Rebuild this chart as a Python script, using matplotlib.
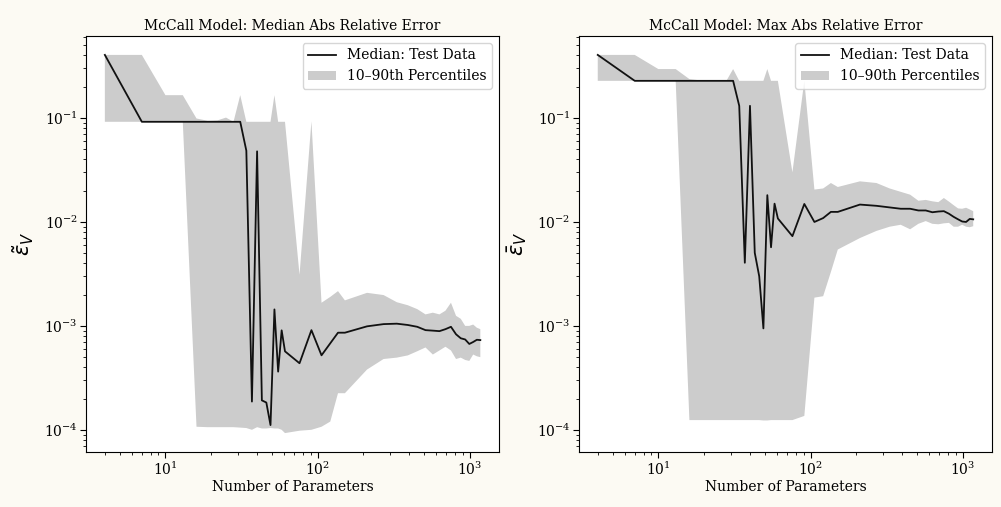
import matplotlib
matplotlib.use('Agg')
import matplotlib.pyplot as plt
import numpy as np

plt.rcParams['font.family'] = 'serif'
plt.rcParams['font.serif'] = ['DejaVu Serif']

# number of parameters
n_params = [4, 7, 10, 13, 16, 19, 22, 25, 28, 31, 34, 37, 40, 43, 46, 49, 52, 55, 58, 61,
            76, 91, 106, 121, 136, 151, 211, 271, 331, 391, 451, 511, 571, 631, 691, 751,
            811, 871, 931, 991, 1051, 1111, 1171]

# median abs relative error
med_median = [0.405, 0.092, 0.092, 0.092, 0.092, 0.092, 0.092, 0.092, 0.092, 0.092, 0.0485,
              1.87e-4, 0.0478, 1.92e-4, 1.83e-4, 1.11e-4, 1.44e-3, 3.63e-4, 9.06e-4, 5.69e-4,
              4.37e-4, 9.1e-4, 5.21e-4, 6.8e-4, 8.6e-4, 8.6e-4, 9.9e-4, 1.04e-3, 1.05e-3,
              1.02e-3, 9.8e-4, 9.1e-4, 9.0e-4, 8.9e-4, 9.3e-4, 9.8e-4, 8.3e-4, 7.6e-4, 7.4e-4,
              6.7e-4, 7.0e-4, 7.35e-4, 7.3e-4]
med_p10 = [0.092, 0.092, 0.092, 0.092, 1.07e-4, 1.06e-4, 1.06e-4, 1.06e-4, 1.06e-4, 1.05e-4,
           1.04e-4, 1.0e-4, 1.06e-4, 1.03e-4, 1.03e-4, 1.04e-4, 1.03e-4, 1.03e-4, 1.0e-4, 9.3e-5,
           9.8e-5, 1.0e-4, 1.07e-4, 1.2e-4, 2.25e-4, 2.25e-4, 3.8e-4, 4.8e-4, 4.95e-4, 5.2e-4,
           5.7e-4, 6.2e-4, 5.3e-4, 5.8e-4, 6.3e-4, 5.8e-4, 4.8e-4, 4.95e-4, 4.7e-4, 4.6e-4,
           5.3e-4, 5.1e-4, 5.0e-4]
med_p90 = [0.405, 0.405, 0.166, 0.166, 0.099, 0.094, 0.095, 0.101, 0.092, 0.166, 0.092, 0.092,
           0.092, 0.092, 0.092, 0.092, 0.166, 0.092, 0.092, 0.092, 3.1e-3, 0.093, 1.67e-3,
           1.9e-3, 2.16e-3, 1.76e-3, 2.08e-3, 1.98e-3, 1.69e-3, 1.58e-3, 1.45e-3, 1.29e-3,
           1.34e-3, 1.29e-3, 1.4e-3, 1.67e-3, 1.25e-3, 1.17e-3, 1.0e-3, 1.0e-3, 1.03e-3,
           9.6e-4, 9.3e-4]

# max abs relative error
max_median = [0.405, 0.228, 0.228, 0.228, 0.228, 0.228, 0.228, 0.228, 0.228, 0.228, 0.131,
              4.05e-3, 0.131, 5.05e-3, 3.0e-3, 9.46e-4, 0.0181, 5.71e-3, 0.0150, 0.0108,
              7.3e-3, 0.0149, 0.0100, 0.0109, 0.0125, 0.0125, 0.0147, 0.0143, 0.0138, 0.0134,
              0.0134, 0.0129, 0.0129, 0.0124, 0.0126, 0.0127, 0.0120, 0.0112, 0.0106, 0.0101,
              0.0100, 0.0107, 0.0106]
max_p10 = [0.228, 0.228, 0.228, 0.228, 1.24e-4, 1.24e-4, 1.24e-4, 1.24e-4, 1.24e-4, 1.24e-4,
           1.24e-4, 1.24e-4, 1.24e-4, 1.24e-4, 1.24e-4, 1.23e-4, 1.23e-4, 1.24e-4, 1.24e-4,
           1.24e-4, 1.24e-4, 1.36e-4, 1.87e-3, 1.93e-3, 3.3e-3, 5.43e-3, 7.0e-3, 8.2e-3, 9.0e-3,
           9.4e-3, 8.5e-3, 9.6e-3, 1.02e-2, 9.6e-3, 9.5e-3, 9.7e-3, 9.8e-3, 9.0e-3, 9.0e-3,
           9.4e-3, 9.0e-3, 8.9e-3, 9.1e-3]
max_p90 = [0.405, 0.405, 0.296, 0.296, 0.237, 0.23, 0.228, 0.232, 0.228, 0.296, 0.228, 0.228,
           0.228, 0.228, 0.228, 0.228, 0.296, 0.228, 0.228, 0.228, 0.030, 0.228, 0.0205, 0.021,
           0.0237, 0.0217, 0.0246, 0.0237, 0.021, 0.0195, 0.0183, 0.016, 0.0163, 0.0158,
           0.0155, 0.017, 0.0157, 0.0145, 0.0135, 0.0134, 0.0137, 0.0132, 0.0127]

fig = plt.figure(figsize=(10.01, 5.07), dpi=100, facecolor='#fcfaf3')
ax1 = fig.add_axes([0.086, 0.1085, 0.4126, 0.8205])
ax2 = fig.add_axes([0.5784, 0.1085, 0.4126, 0.8205])

panels = [
    (ax1, med_median, med_p10, med_p90, 'McCall Model: Median Abs Relative Error', r'$\tilde{\varepsilon}_V$'),
    (ax2, max_median, max_p10, max_p90, 'McCall Model: Max Abs Relative Error', r'$\bar{\varepsilon}_V$'),
]

for ax, med, lo, hi, title, ylab in panels:
    ax.plot(n_params, med, color='#111111', lw=1.3, label='Median: Test Data')
    ax.fill_between(n_params, lo, hi, facecolor='#cccccc', edgecolor='none',
                    label='10–90th Percentiles')
    ax.set_xscale('log')
    ax.set_yscale('log')
    ax.set_title(title, fontsize=10, pad=4)
    ax.set_xlabel('Number of Parameters', fontsize=10, labelpad=2)
    ax.set_ylabel(ylab, fontsize=15, family='DejaVu Sans', labelpad=6)
    ax.tick_params(which='major', labelsize=10, length=4, pad=2)
    ax.tick_params(which='minor', length=2.5)
    ax.legend(loc='upper right', fontsize=10)

ax2.set_ylim(ax1.get_ylim())

plt.savefig('out.png', dpi=100, facecolor=fig.get_facecolor())
